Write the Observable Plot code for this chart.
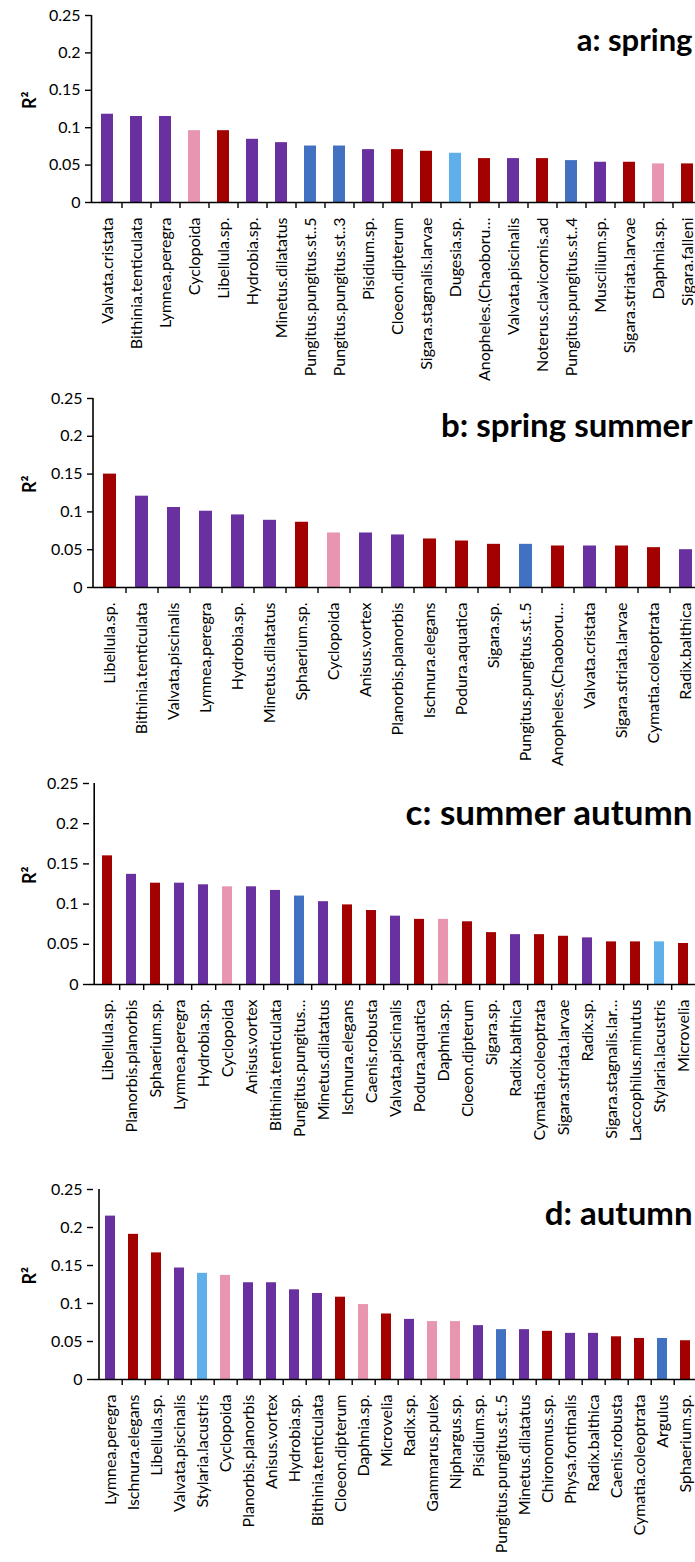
<!DOCTYPE html>
<html><head><meta charset="utf-8">
<script src="https://cdn.jsdelivr.net/npm/d3@7"></script>
<script src="https://cdn.jsdelivr.net/npm/@observablehq/plot@0.6"></script>
<style>
html,body{margin:0;padding:0;background:#fff;}
body{width:695px;height:1562px;overflow:hidden;position:relative;font-family:Lato,"Open Sans",sans-serif;}
.panel{position:absolute;left:0;}
.panel svg{max-width:none !important;height:auto;overflow:visible;}
</style></head><body>
<script>
// taxon groups: M mollusc (purple), I insect (red), C crustacean (pink), F fish (blue), W worm (light blue)
const groupCodes = ["M","I","C","F","W"];
const groupColors = ["#6930A0","#A30000","#E896AF","#4171C0","#5EAFEA"];
const yTicks = [0, 0.05, 0.1, 0.15, 0.2, 0.25];

const catsA = ["Valvata.cristata","Bithinia.tenticulata","Lymnea.peregra","Cyclopoida","Libellula.sp.","Hydrobia.sp.","Minetus.dilatatus","Pungitus.pungitus.st..5","Pungitus.pungitus.st..3","Pisidium.sp.","Cloeon.dipterum","Sigara.stagnalis.larvae","Dugesia.sp.","Anopheles.(Chaoboru…","Valvata.piscinalis","Noterus.clavicornis.ad","Pungitus.pungitus.st..4","Muscilium.sp.","Sigara.striata.larvae","Daphnia.sp.","Sigara.falleni"];
const valsA = [0.118,0.115,0.115,0.096,0.096,0.0845,0.080,0.0755,0.0755,0.0707,0.0707,0.0685,0.0658,0.0587,0.0587,0.0587,0.056,0.0538,0.0538,0.0516,0.0516];
const grpA = ["M","M","M","C","I","M","M","F","F","M","I","I","W","I","M","I","F","M","I","C","I"];

const catsB = ["Libellula.sp.","Bithinia.tenticulata","Valvata.piscinalis","Lymnea.peregra","Hydrobia.sp.","Minetus.dilatatus","Sphaerium.sp.","Cyclopoida","Anisus.vortex","Planorbis.planorbis","Ischnura.elegans","Podura.aquatica","Sigara.sp.","Pungitus.pungitus.st..5","Anopheles.(Chaoboru…","Valvata.cristata","Sigara.striata.larvae","Cymatia.coleoptrata","Radix.balthica"];
const valsB = [0.150,0.1208,0.1058,0.1009,0.096,0.0889,0.0863,0.0721,0.0721,0.0695,0.0642,0.0615,0.0571,0.0571,0.0549,0.0549,0.0549,0.0527,0.050];
const grpB = ["I","M","M","M","M","M","I","C","M","M","I","I","I","F","I","M","I","I","M"];

const catsC = ["Libellula.sp.","Planorbis.planorbis","Sphaerium.sp.","Lymnea.peregra","Hydrobia.sp.","Cyclopoida","Anisus.vortex","Bithinia.tenticulata","Pungitus.pungitus…","Minetus.dilatatus","Ischnura.elegans","Caenis.robusta","Valvata.piscinalis","Podura.aquatica","Daphnia.sp.","Cloeon.dipterum","Sigara.sp.","Radix.balthica","Cymatia.coleoptrata","Sigara.striata.larvae","Radix.sp.","Sigara.stagnalis.lar…","Laccophilus.minutus","Stylaria.lacustris","Microvelia"];
const valsC = [0.160,0.137,0.126,0.126,0.124,0.1215,0.1215,0.117,0.110,0.103,0.099,0.092,0.085,0.081,0.081,0.078,0.0645,0.062,0.062,0.060,0.058,0.053,0.053,0.053,0.051];
const grpC = ["I","M","I","M","M","C","M","M","F","M","I","I","M","I","C","I","I","M","I","I","M","I","I","W","I"];

const catsD = ["Lymnea.peregra","Ischnura.elegans","Libellula.sp.","Valvata.piscinalis","Stylaria.lacustris","Cyclopoida","Planorbis.planorbis","Anisus.vortex","Hydrobia.sp.","Bithinia.tenticulata","Cloeon.dipterum","Daphnia.sp.","Microvelia","Radix.sp.","Gammarus.pulex","Niphargus.sp.","Pisidium.sp.","Pungitus.pungitus.st..5","Minetus.dilatatus","Chironomus.sp.","Physa.fontinalis","Radix.balthica","Caenis.robusta","Cymatia.coleoptrata","Argulus","Sphaerium.sp."];
const valsD = [0.215,0.191,0.1666,0.1467,0.1397,0.137,0.1273,0.1273,0.118,0.1132,0.1083,0.0986,0.0862,0.0791,0.0762,0.0762,0.0709,0.0656,0.0656,0.0634,0.0607,0.0607,0.0562,0.054,0.054,0.051];
const grpD = ["M","I","I","M","W","C","M","M","M","M","I","C","I","M","C","C","M","F","M","I","M","M","I","I","F","I"];

function panel(cfg) {
  const {cats, vals, grps, title, top, height, y0, y1, axisX, firstCenter, step} = cfg;
  const W = 720;
  const data = cats.map((c, i) => ({cat: c, val: vals[i], grp: grps[i]}));
  const r0 = firstCenter - step / 2;
  const r1 = r0 + cats.length * step;
  const tickLen = 0.25 * 6 / (y1 - y0);
  const chart = Plot.plot({
    width: W, height,
    marginTop: y0 - top, marginBottom: top + height - y1,
    marginLeft: axisX, marginRight: 0,
    style: {fontFamily: "Lato, 'Open Sans', sans-serif", fontSize: "16px", color: "#000", background: "transparent", maxWidth: "none", overflow: "visible"},
    x: {domain: cats, range: [r0, r1], paddingInner: 0.58, paddingOuter: 0.29},
    y: {domain: [0, 0.25]},
    color: {domain: groupCodes, range: groupColors},
    marks: [
      Plot.barY(data, {x: "cat", y: "val", fill: "grp"}),
      Plot.ruleY([0], {stroke: "#000", strokeWidth: 1.6}),
      Plot.ruleX([cats[0]], {y1: 0, y2: 0.25, dx: -(firstCenter - axisX), stroke: "#000", strokeWidth: 1.6}),
      Plot.ruleX(cats, {x: d => d, y1: 0, y2: -tickLen, dx: step / 2, stroke: "#000", strokeWidth: 1.4}),
      Plot.axisY({ticks: yTicks, tickFormat: d => String(+d.toFixed(2)), tickSize: 6, tickPadding: 5, label: null, fontSize: 16, strokeWidth: 1.4}),
      Plot.axisX({tickRotate: -90, tickSize: 0, tickPadding: 15, label: null, fontSize: 16}),
      Plot.text(["R²"], {text: d => d, frameAnchor: "left", dx: 30 - axisX, rotate: -90, fontWeight: "bold", fontSize: 18}),
      Plot.text([title], {text: d => d, frameAnchor: "top-left", dx: 692 - axisX, dy: cfg.titleBase - y0, textAnchor: "end", lineAnchor: "bottom", fontWeight: "bold", fontSize: cfg.titleSize})
    ]
  });
  const div = document.createElement("div");
  div.className = "panel";
  div.style.top = top + "px";
  div.appendChild(chart);
  document.body.appendChild(div);
}

panel({cats: catsA, vals: valsA, grps: grpA, title: "a: spring", top: 0, height: 380, y0: 15, y1: 202, axisX: 91, firstCenter: 107, step: 29, titleBase: 50, titleSize: 31});
panel({cats: catsB, vals: valsB, grps: grpB, title: "b: spring summer", top: 380, height: 380, y0: 398, y1: 587, axisX: 93, firstCenter: 110, step: 32, titleBase: 436, titleSize: 33});
panel({cats: catsC, vals: valsC, grps: grpC, title: "c: summer autumn", top: 760, height: 400, y0: 783, y1: 984, axisX: 89, firstCenter: 102.3, step: 24.4, titleBase: 824, titleSize: 35});
panel({cats: catsD, vals: valsD, grps: grpD, title: "d: autumn", top: 1160, height: 402, y0: 1189, y1: 1379, axisX: 93, firstCenter: 104.5, step: 23.4, titleBase: 1224, titleSize: 33});
</script>
</body></html>
